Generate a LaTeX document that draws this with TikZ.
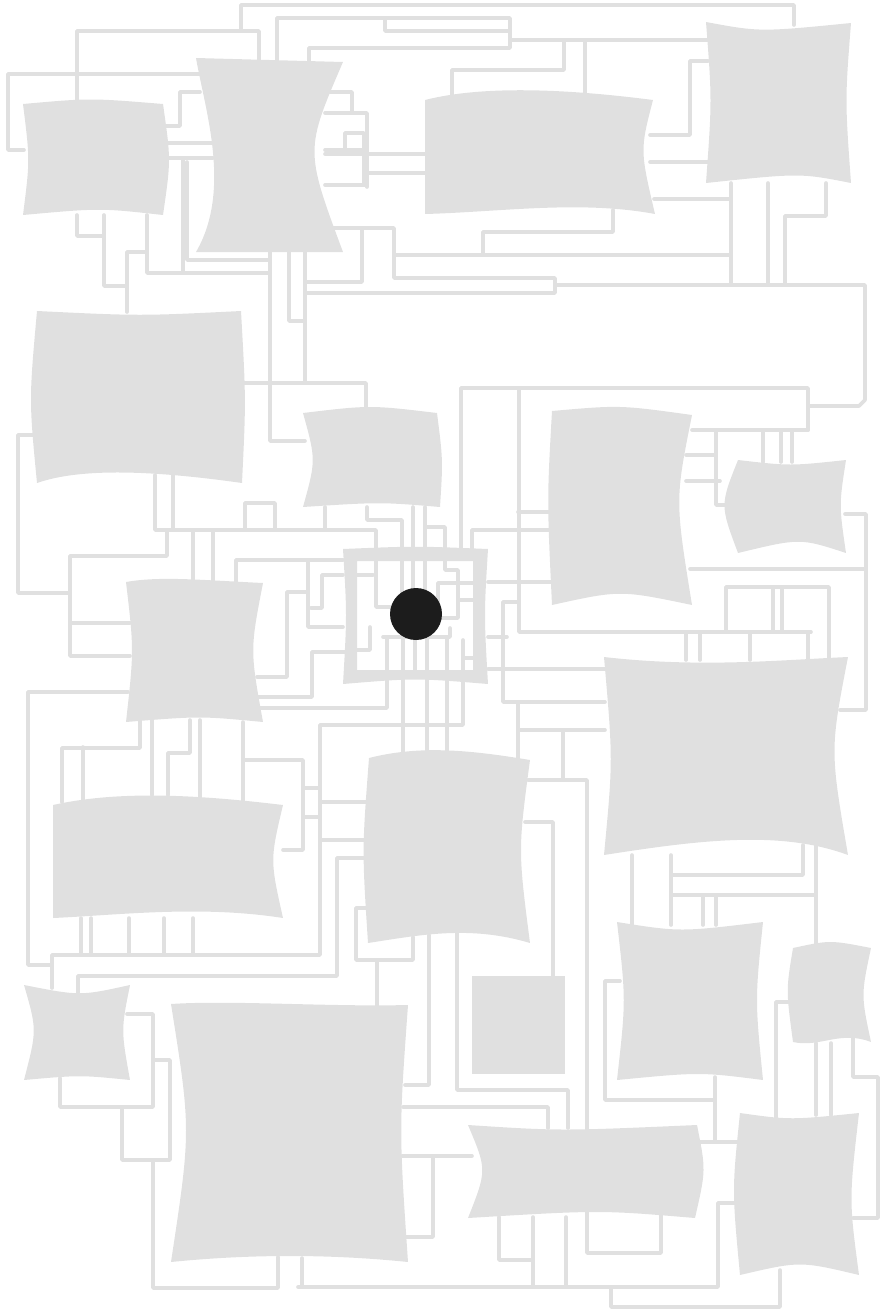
\documentclass[tikz,border=0pt]{standalone}
\usepackage{tikz}
\definecolor{shade}{HTML}{E0E0E0}
\definecolor{ink}{HTML}{1C1C1C}

\begin{document}
\begin{tikzpicture}[
  x=1pt, y=-1pt,
  wire/.style={draw=shade, line width=3.6pt, line cap=round, line join=round},
  blob/.style={fill=shade}
]
\useasboundingbox (0,0) rectangle (883,1310);

% blobs
\fill[blob] (23,104) .. controls (90,98) .. (163,104) .. controls (171,160) .. (163,215) .. controls (100,208) .. (23,215) .. controls (30,160) .. (23,104);
\fill[blob] (196,58) -- (343,62) .. controls (305,150) .. (343,252) -- (196,252) .. controls (232,190) and (205,110) .. (196,58);
\fill[blob] (425,100) .. controls (480,86) and (560,88) .. (653,100) .. controls (640,150) .. (655,214) .. controls (580,200) and (500,212) .. (425,214) -- cycle;
\fill[blob] (706,22) .. controls (760,32) .. (851,23) .. controls (845,100) .. (851,183) .. controls (800,173) .. (706,183) .. controls (712,100) .. (706,22);
\fill[blob] (37,311) .. controls (140,316) .. (241,311) .. controls (246,400) .. (242,483) .. controls (150,470) and (80,468) .. (37,483) .. controls (29,400) .. (37,311);
\fill[blob] (303,413) .. controls (370,405) .. (437,413) .. controls (443,460) .. (440,507) .. controls (380,502) .. (303,507) .. controls (316,460) .. (303,413);
\fill[blob] (552,411) .. controls (620,405) .. (692,415) .. controls (675,500) .. (692,605) .. controls (620,590) .. (552,605) .. controls (547,500) .. (552,411);
\fill[blob] (738,460) .. controls (790,466) .. (846,460) .. controls (839,505) .. (846,553) .. controls (800,538) .. (738,553) .. controls (720,505) .. (738,460);
\fill[blob] (126,582) .. controls (160,576) and (200,580) .. (263,583) .. controls (250,650) .. (263,722) .. controls (200,716) .. (126,722) .. controls (134,650) .. (126,582);
\fill[blob] (604,657) .. controls (700,668) and (780,660) .. (848,657) .. controls (830,750) .. (848,855) .. controls (780,830) and (700,840) .. (604,855) .. controls (613,760) .. (604,657);
\fill[blob] (53,805) .. controls (120,790) and (200,795) .. (283,805) .. controls (270,860) .. (283,918) .. controls (200,905) and (120,915) .. (53,918) -- cycle;
\fill[blob] (369,758) .. controls (420,745) and (470,750) .. (530,760) .. controls (518,850) .. (530,943) .. controls (470,925) and (420,935) .. (368,943) .. controls (362,850) .. (369,758);
\fill[blob] (472,976) rectangle (565,1074);
\fill[blob] (617,922) .. controls (680,932) .. (763,922) .. controls (755,1000) .. (763,1080) .. controls (700,1072) .. (617,1080) .. controls (626,1000) .. (617,922);
\fill[blob] (793,948) .. controls (830,940) .. (871,948) .. controls (861,995) .. (871,1042) .. controls (840,1030) and (820,1048) .. (793,1042) .. controls (786,990) .. (793,948);
\fill[blob] (24,985) .. controls (80,996) .. (130,985) .. controls (121,1030) .. (130,1080) .. controls (80,1075) .. (24,1080) .. controls (37,1030) .. (24,985);
\fill[blob] (171,1004) .. controls (230,1000) and (330,1007) .. (408,1005) .. controls (399,1130) .. (408,1262) .. controls (330,1254) and (250,1254) .. (171,1262) .. controls (191,1130) .. (171,1004);
\fill[blob] (468,1125) .. controls (560,1131) .. (697,1125) .. controls (706,1170) .. (695,1218) .. controls (600,1210) .. (468,1218) .. controls (487,1170) .. (468,1125);
\fill[blob] (740,1113) .. controls (790,1120) .. (859,1113) .. controls (849,1200) .. (859,1275) .. controls (800,1261) .. (740,1275) .. controls (732,1190) .. (740,1113);
% hollow frame
\fill[blob, even odd rule] (343,549) .. controls (415,546) .. (488,549) .. controls (484,615) .. (488,684) .. controls (415,678) .. (343,684) .. controls (347,615) .. (343,549) (357,561) rectangle (473,670);

% wires, top
\draw[wire] (241,30) -- (241,5) -- (794,5) -- (794,25);
\draw[wire] (77,102) -- (77,31) -- (259,31) -- (259,62);
\draw[wire] (24,150) -- (8,150) -- (8,74) -- (200,74);
\draw[wire] (277,62) -- (277,18) -- (510,18) -- (510,48) -- (309,48) -- (309,62);
\draw[wire] (385,18) -- (385,31) -- (510,31);
\draw[wire] (510,40) -- (708,40);
\draw[wire] (564,40) -- (564,70) -- (452,70) -- (452,100);
\draw[wire] (585,40) -- (585,97);
\draw[wire] (650,135) -- (690,135) -- (690,61) -- (708,61);
\draw[wire] (650,162) -- (708,162);
\draw[wire] (654,199) -- (731,199);
\draw[wire] (731,183) -- (731,285);
\draw[wire] (768,183) -- (768,285);
\draw[wire] (785,285) -- (785,216) -- (826,216) -- (826,183);
\draw[wire] (613,210) -- (613,232) -- (483,232) -- (483,255);
\draw[wire] (394,255) -- (730,255);
\draw[wire] (333,228) -- (394,228) -- (394,278) -- (555,278) -- (555,293) -- (305,293);
\draw[wire] (362,228) -- (362,282) -- (305,282);
\draw[wire] (555,285) -- (865,285) -- (865,400) -- (859,406) -- (808,406);
\draw[wire] (305,252) -- (305,383);
\draw[wire] (242,383) -- (366,383) -- (366,412);
\draw[wire] (289,252) -- (289,321) -- (305,321);
\draw[wire] (270,252) -- (270,441) -- (305,441);
\draw[wire] (163,126) -- (180,126) -- (180,92) -- (200,92);
\draw[wire] (165,143) -- (212,143);
\draw[wire] (165,158) -- (213,158);
\draw[wire] (77,215) -- (77,236) -- (104,236);
\draw[wire] (104,215) -- (104,286) -- (127,286);
\draw[wire] (127,312) -- (127,252) -- (147,252);
\draw[wire] (147,215) -- (147,273) -- (270,273);
\draw[wire] (183,160) -- (183,273);
\draw[wire] (187,162) -- (187,260) -- (270,260);
\draw[wire] (330,92) -- (352,92) -- (352,113);
\draw[wire] (325,113) -- (367,113) -- (367,187);
\draw[wire] (325,185) -- (367,185);
\draw[wire] (345,150) -- (345,133) -- (364,133) -- (364,185);
\draw[wire] (325,150) -- (364,150);
\draw[wire] (325,154) -- (425,154);
\draw[wire] (367,173) -- (425,173);

% wires, middle
\draw[wire] (461,548) -- (461,388) -- (808,388) -- (808,430);
\draw[wire] (519,388) -- (519,632) -- (811,632);
\draw[wire] (686,632) -- (686,660);
\draw[wire] (700,632) -- (700,660);
\draw[wire] (750,632) -- (750,660);
\draw[wire] (808,632) -- (808,660);
\draw[wire] (726,632) -- (726,587) -- (829,587) -- (829,660);
\draw[wire] (773,587) -- (773,632);
\draw[wire] (782,587) -- (782,632);
\draw[wire] (692,430) -- (808,430);
\draw[wire] (716,430) -- (716,505) -- (736,505);
\draw[wire] (686,455) -- (716,455);
\draw[wire] (686,481) -- (720,481);
\draw[wire] (763,430) -- (763,462);
\draw[wire] (781,430) -- (781,462);
\draw[wire] (792,430) -- (792,462);
\draw[wire] (845,514) -- (866,514) -- (866,710) -- (840,710);
\draw[wire] (690,569) -- (866,569);
\draw[wire] (70,593) -- (18,593) -- (18,435) -- (37,435);
\draw[wire] (167,531) -- (167,556) -- (70,556) -- (70,656) -- (130,656);
\draw[wire] (70,623) -- (130,623);
\draw[wire] (155,475) -- (155,530) -- (376,530) -- (376,607) -- (390,607);
\draw[wire] (173,475) -- (173,530);
\draw[wire] (193,530) -- (193,582);
\draw[wire] (213,530) -- (213,582);
\draw[wire] (245,530) -- (245,503) -- (275,503) -- (275,530);
\draw[wire] (236,583) -- (236,560) -- (343,560);
\draw[wire] (325,507) -- (325,530);
\draw[wire] (367,507) -- (367,520) -- (402,520) -- (402,592);
\draw[wire] (413,507) -- (413,592);
\draw[wire] (425,507) -- (425,592);
\draw[wire] (425,527) -- (445,527) -- (445,570) -- (458,570) -- (458,618) -- (437,618);
\draw[wire] (472,550) -- (472,530) -- (552,530);
\draw[wire] (518,512) -- (552,512);
\draw[wire] (488,582) -- (552,582);
\draw[wire] (517,602) -- (503,602) -- (503,702) -- (605,702);
\draw[wire] (488,637) -- (507,637);
\draw[wire] (488,669) -- (605,669);
\draw[wire] (518,702) -- (518,760);
\draw[wire] (518,730) -- (605,730);
\draw[wire] (563,730) -- (563,780);
\draw[wire] (528,780) -- (587,780) -- (587,1253) -- (661,1253) -- (661,1213);
\draw[wire] (525,822) -- (553,822) -- (553,976);

% wires, inside the frame
\draw[wire] (438,618) -- (438,583) -- (473,583);
\draw[wire] (458,600) -- (473,600);
\draw[wire] (357,575) -- (373,575);
\draw[wire] (383,637) -- (450,637) -- (450,628);
\draw[wire] (387,637) -- (387,708) -- (257,708);
\draw[wire] (403,637) -- (403,752);
\draw[wire] (415,637) -- (415,672);
\draw[wire] (427,637) -- (427,752);
\draw[wire] (447,637) -- (447,752);
\draw[wire] (463,640) -- (463,725) -- (320,725) -- (320,955) -- (52,955) -- (52,988);
\draw[wire] (463,658) -- (473,658);
\draw[wire] (370,627) -- (370,650) -- (357,650);

% wires, left middle
\draw[wire] (307,592) -- (287,592) -- (287,677) -- (257,677);
\draw[wire] (308,562) -- (308,627) -- (343,627);
\draw[wire] (311,608) -- (322,608) -- (322,575) -- (343,575);
\draw[wire] (257,697) -- (312,697) -- (312,652) -- (347,652);
\draw[wire] (52,965) -- (28,965) -- (28,692) -- (128,692);
\draw[wire] (62,802) -- (62,748) -- (140,748) -- (140,720);
\draw[wire] (83,747) -- (83,800);
\draw[wire] (152,720) -- (152,795);
\draw[wire] (168,795) -- (168,753) -- (190,753) -- (190,720);
\draw[wire] (200,720) -- (200,798);
\draw[wire] (243,722) -- (243,802);
\draw[wire] (243,760) -- (303,760) -- (303,850) -- (283,850);
\draw[wire] (303,788) -- (320,788);
\draw[wire] (303,817) -- (320,817);
\draw[wire] (320,802) -- (370,802);
\draw[wire] (320,840) -- (368,840);
\draw[wire] (368,858) -- (337,858) -- (337,976) -- (78,976) -- (78,993);
\foreach \wx in {81,91,129,164,193}
  \draw[wire] (\wx,918) -- (\wx,955);

% wires, bottom
\draw[wire] (368,908) -- (356,908) -- (356,960) -- (413,960) -- (413,937);
\draw[wire] (377,960) -- (377,1007);
\draw[wire] (405,1085) -- (429,1085) -- (429,935);
\draw[wire] (457,933) -- (457,1090) -- (568,1090) -- (568,1128);
\draw[wire] (403,1107) -- (548,1107) -- (548,1128);
\draw[wire] (402,1156) -- (472,1156);
\draw[wire] (433,1156) -- (433,1237) -- (403,1237);
\draw[wire] (499,1217) -- (499,1260) -- (533,1260);
\draw[wire] (533,1217) -- (533,1287);
\draw[wire] (566,1217) -- (566,1287);
\draw[wire] (298,1287) -- (718,1287) -- (718,1203) -- (738,1203);
\draw[wire] (302,1258) -- (302,1287);
\draw[wire] (611,1287) -- (611,1307) -- (780,1307) -- (780,1270);
\draw[wire] (127,1014) -- (153,1014) -- (153,1107) -- (60,1107) -- (60,1078);
\draw[wire] (153,1060) -- (170,1060) -- (170,1160) -- (122,1160) -- (122,1107);
\draw[wire] (153,1160) -- (153,1288) -- (278,1288) -- (278,1257);
\draw[wire] (632,855) -- (632,925);
\draw[wire] (671,855) -- (671,925);
\draw[wire] (803,845) -- (803,875) -- (671,875);
\draw[wire] (816,845) -- (816,945);
\draw[wire] (671,895) -- (816,895);
\draw[wire] (703,895) -- (703,925);
\draw[wire] (716,895) -- (716,925);
\draw[wire] (620,981) -- (605,981) -- (605,1100) -- (713,1100);
\draw[wire] (715,1077) -- (715,1140);
\draw[wire] (700,1142) -- (740,1142);
\draw[wire] (790,1002) -- (776,1002) -- (776,1118);
\draw[wire] (816,1043) -- (816,1115);
\draw[wire] (831,1043) -- (831,1115);
\draw[wire] (853,1038) -- (853,1077) -- (878,1077) -- (878,1218) -- (853,1218);

% the dot
\fill[ink] (416,614) circle (26);
\end{tikzpicture}
\end{document}
